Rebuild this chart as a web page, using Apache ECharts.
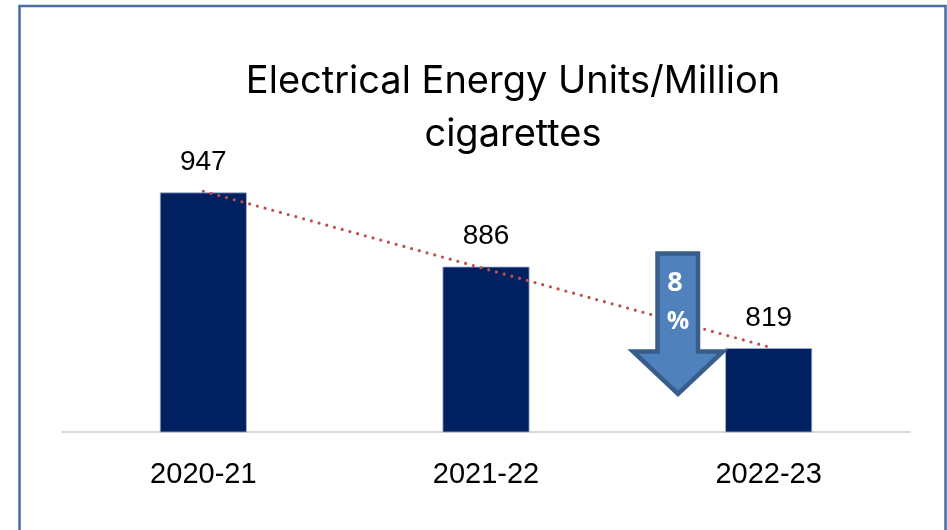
<!DOCTYPE html>
<html>
<head>
<meta charset="utf-8">
<script src="https://cdn.jsdelivr.net/npm/echarts@6/dist/echarts.min.js"></script>
<style>
html,body{margin:0;padding:0;background:#fff;}
#chart{width:947px;height:530px;}
</style>
</head>
<body>
<div id="chart"></div>
<script>
const categories = ["2020-21", "2021-22", "2022-23"];
const energyValues = [947, 886, 819];
const changeLabel = ["8", "%"];
const titleText = "Electrical Energy Units/Million\ncigarettes";

// Linear trendline (least squares) derived from the bar values
const n = energyValues.length;
const xs = energyValues.map((_, i) => i);
const mx = xs.reduce((a, b) => a + b, 0) / n;
const my = energyValues.reduce((a, b) => a + b, 0) / n;
let num = 0, den = 0;
xs.forEach((x, i) => { num += (x - mx) * (energyValues[i] - my); den += (x - mx) * (x - mx); });
const slope = num / den;
const trend = xs.map(x => my + slope * (x - mx));

const chart = echarts.init(document.getElementById('chart'), null, {renderer: 'canvas'});
chart.setOption({
  backgroundColor: '#ffffff',
  animation: false,
  title: {
    text: titleText,
    left: 508,
    top: 50,
    textAlign: 'center',
    textStyle: {
      fontFamily: 'Inter',
      fontWeight: 'normal',
      fontSize: 38,
      lineHeight: 53,
      color: '#000000'
    }
  },
  grid: {left: 62, right: 37, top: 128, bottom: 98, containLabel: false},
  xAxis: {
    type: 'category',
    data: categories,
    axisLine: {lineStyle: {color: '#D9D9D9', width: 2}},
    axisTick: {show: false},
    axisLabel: {
      margin: 28,
      fontFamily: 'Liberation Sans',
      fontSize: 29,
      color: '#000000'
    }
  },
  yAxis: {
    type: 'value',
    min: 750,
    max: 1000,
    show: false,
    splitLine: {show: false}
  },
  series: [
    {
      type: 'bar',
      data: energyValues,
      barWidth: 87,
      itemStyle: {color: '#002060', borderColor: '#9FB0CF', borderWidth: 0.8},
      label: {
        show: true,
        position: 'top',
        distance: 16,
        fontFamily: 'Liberation Sans',
        fontSize: 28,
        color: '#000000'
      },
      z: 2
    },
    {
      type: 'line',
      data: trend,
      symbol: 'none',
      lineStyle: {color: '#C0504D', width: 3.2, type: [0, 8], cap: 'round'},
      z: 3
    }
  ],
  graphic: [
    {
      type: 'rect',
      shape: {x: 19.5, y: 6, width: 926, height: 560},
      style: {fill: 'none', stroke: '#4A6CA5', lineWidth: 2.5},
      silent: true
    },
    {
      type: 'polygon',
      shape: {points: [[657.5, 253.5], [698, 253.5], [698, 351.5], [723, 351.5], [678, 394], [633, 351.5], [657.5, 351.5]]},
      style: {fill: '#4F81BD', stroke: '#385D8A', lineWidth: 4.5},
      z: 10
    },
    {
      type: 'text',
      x: 675, y: 283,
      style: {text: changeLabel[0], fill: '#ffffff', font: 'bold 27px "Open Sans"', textAlign: 'center', textVerticalAlign: 'middle'},
      z: 11
    },
    {
      type: 'text',
      x: 678, y: 322,
      style: {text: changeLabel[1], fill: '#ffffff', font: 'bold 25px "Open Sans"', textAlign: 'center', textVerticalAlign: 'middle'},
      z: 11
    }
  ]
});
</script>
</body>
</html>
